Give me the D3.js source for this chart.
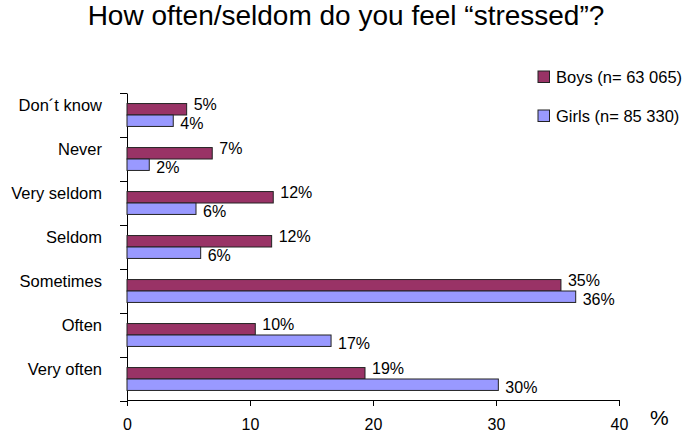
<!DOCTYPE html>
<html>
<head>
<meta charset="utf-8">
<script src="https://cdn.jsdelivr.net/npm/d3@7"></script>
<style>
  body { margin: 0; background: #fff; }
  text { font-family: Arial, "Liberation Sans", sans-serif; fill: #000; }
</style>
</head>
<body>
<div id="chart"></div>
<script>
var categories = ["Don´t know", "Never", "Very seldom", "Seldom", "Sometimes", "Often", "Very often"];
var boys = [4.85, 6.93, 11.89, 11.76, 35.28, 10.43, 19.35];
var girls = [3.76, 1.81, 5.61, 5.99, 36.48, 16.59, 30.19];
var seriesNames = ["Boys (n= 63 065)", "Girls (n= 85 330)"];
var xTicks = [0, 10, 20, 30, 40];

var svgWidth = 686;
var svgHeight = 436;
var colors = ["#993366", "#9999ff"];

var svg = d3.select("#chart")
  .append("svg")
  .attr("width", svgWidth)
  .attr("height", svgHeight);

svg.append("text")
  .attr("x", 346)
  .attr("y", 25)
  .attr("text-anchor", "middle")
  .attr("font-size", "28px")
  .text("How often/seldom do you feel “stressed”?");

var x = d3.scaleLinear().domain([0, 40]).range([127, 619]);
var y = d3.scaleBand().domain(categories).range([93, 401]);
var bw = y.bandwidth();
var barH = bw * 0.26;

// y axis: ticks at band edges, no labels
var yEdges = d3.scaleLinear().domain([0, categories.length]).range([93, 401]);
svg.append("g")
  .attr("transform", "translate(127,0)")
  .call(d3.axisLeft(yEdges).ticks(categories.length).tickFormat("").tickSize(7).tickSizeOuter(0))
  .call(g => g.selectAll("line, path").attr("stroke", "#000"));

svg.append("g")
  .selectAll("text")
  .data(categories)
  .enter()
  .append("text")
  .attr("x", 102)
  .attr("y", d => y(d) + bw / 2 - 10)
  .attr("dy", "0.36em")
  .attr("text-anchor", "end")
  .attr("font-size", "16.5px")
  .text(d => d);

// x axis
var xAxis = svg.append("g")
  .attr("transform", "translate(0,400)")
  .call(d3.axisBottom(x).tickValues(xTicks).tickSize(6).tickSizeOuter(0).tickPadding(13));
xAxis.selectAll("line, path").attr("stroke", "#000");
xAxis.selectAll("text")
  .attr("font-size", "16px")
  .attr("font-family", "Arial, 'Liberation Sans', sans-serif")
  .attr("fill", "#000");

svg.append("text")
  .attr("x", 650)
  .attr("y", 425)
  .attr("font-size", "21px")
  .text("%");

// bars
var rows = categories.map((c, i) => ({cat: c, boys: boys[i], girls: girls[i]}));

var groups = svg.append("g")
  .selectAll("g")
  .data(rows)
  .enter()
  .append("g");

groups.append("rect")
  .attr("x", x(0))
  .attr("y", d => y(d.cat) + bw / 2 - barH)
  .attr("width", d => x(d.boys) - x(0))
  .attr("height", barH)
  .attr("fill", colors[0])
  .attr("stroke", "#222")
  .attr("stroke-width", 1);

groups.append("rect")
  .attr("x", x(0))
  .attr("y", d => y(d.cat) + bw / 2)
  .attr("width", d => x(d.girls) - x(0))
  .attr("height", barH)
  .attr("fill", colors[1])
  .attr("stroke", "#222")
  .attr("stroke-width", 1);

groups.append("text")
  .attr("x", d => x(d.boys) + 7)
  .attr("y", d => y(d.cat) + bw / 2 - barH / 2 - 5)
  .attr("dy", "0.36em")
  .attr("font-size", "16px")
  .text(d => Math.round(d.boys) + "%");

groups.append("text")
  .attr("x", d => x(d.girls) + 7)
  .attr("y", d => y(d.cat) + bw / 2 + barH / 2 + 2.5)
  .attr("dy", "0.36em")
  .attr("font-size", "16px")
  .text(d => Math.round(d.girls) + "%");

// legend
var legend = svg.append("g")
  .selectAll("g")
  .data(seriesNames)
  .enter()
  .append("g")
  .attr("transform", (d, i) => `translate(538, ${71 + i * 39})`);

legend.append("rect")
  .attr("width", 11.5)
  .attr("height", 11.5)
  .attr("fill", (d, i) => colors[i])
  .attr("stroke", "#222");

legend.append("text")
  .attr("x", 18)
  .attr("y", 6)
  .attr("dy", "0.36em")
  .attr("font-size", "16.5px")
  .text(d => d);
</script>
</body>
</html>
